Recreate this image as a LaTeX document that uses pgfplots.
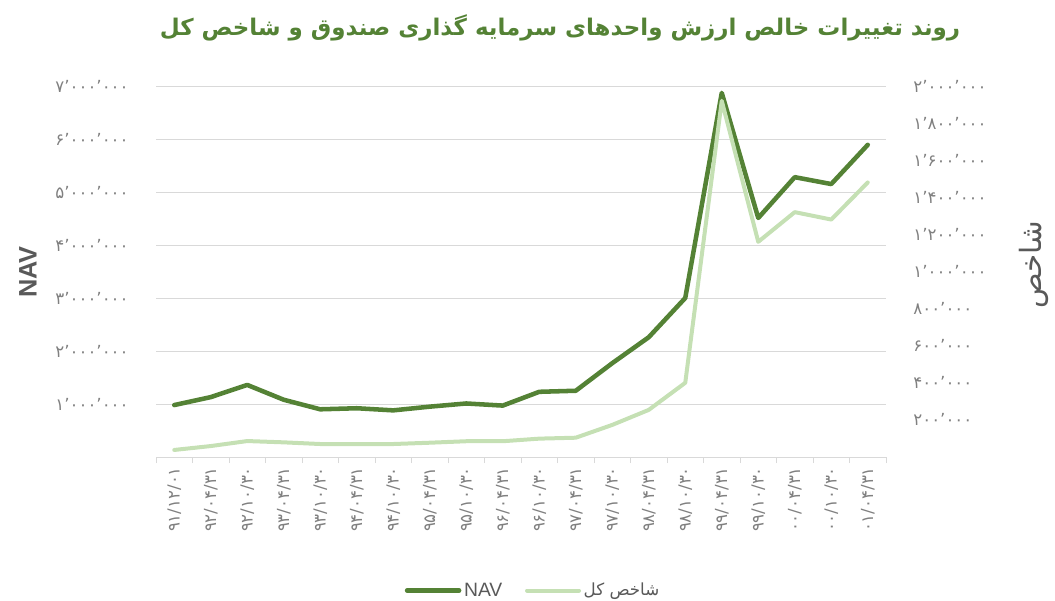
\documentclass[border=0pt]{standalone}
\usepackage{fontspec}
\setmainfont{Liberation Sans}
\newfontfamily\arabicfont[Script=Arabic]{DejaVu Sans}
\TeXXeTstate=1
\usepackage{pgfplots}
\usepackage{pgfplotstable}
\pgfplotsset{compat=1.18}

\definecolor{navgreen}{RGB}{84,130,53}
\definecolor{idxgreen}{RGB}{197,224,180}
\definecolor{gridgray}{RGB}{217,217,217}
\definecolor{tickgray}{RGB}{128,128,128}
\definecolor{labelgray}{RGB}{89,89,89}

% NAV (left axis) and shakhes kol (right axis)
\pgfplotstableread{
idx nav shakhes
0  980000  38000
1  1130000 59000
2  1360000 86000
3  1080000 79000
4  900000  70000
5  920000  70000
6  880000  70000
7  950000  77000
8  1010000 85000
9  970000  85000
10 1230000 99000
11 1250000 104000
12 1770000 173000
13 2260000 254000
14 3000000 400000
15 6870000 1920000
16 4510000 1160000
17 5280000 1320000
18 5150000 1280000
19 5890000 1480000
}\data

\begin{document}
\begin{tikzpicture}[x=1pt,y=1pt]
\useasboundingbox (0,0) rectangle (791.25,450);

\node[font=\arabicfont\bfseries\fontsize{17.2}{20}\selectfont, text=navgreen] at (420,429)
  {\beginR روند تغییرات خالص ارزش واحدهای سرمایه گذاری صندوق و شاخص کل\endR};
\node[font=\bfseries\fontsize{19}{22}\selectfont, text=labelgray, rotate=90] at (21,246) {NAV};
\node[font=\arabicfont\fontsize{22}{26}\selectfont, text=labelgray, rotate=90] at (775.5,251.25) {\beginR شاخص\endR};

\begin{axis}[
  at={(117pt,107.25pt)}, anchor=south west,
  scale only axis, width=547.5pt, height=278.25pt,
  xmin=-0.5, xmax=19.5, ymin=0, ymax=7e6,
  axis x line*=bottom, axis y line*=left,
  x axis line style={-, draw=gridgray, line width=0.75pt},
  y axis line style={draw=none},
  xtick={0,...,19},
  xticklabels={۹۱/۱۲/۰۱, ۹۲/۰۴/۳۱, ۹۲/۱۰/۳۰, ۹۳/۰۴/۳۱, ۹۳/۱۰/۳۰, ۹۴/۰۴/۳۱, ۹۴/۱۰/۳۰, ۹۵/۰۴/۳۱, ۹۵/۱۰/۳۰, ۹۶/۰۴/۳۱, ۹۶/۱۰/۳۰, ۹۷/۰۴/۳۱, ۹۷/۱۰/۳۰, ۹۸/۰۴/۳۱, ۹۸/۱۰/۳۰, ۹۹/۰۴/۳۱, ۹۹/۱۰/۳۰, ۰۰/۰۴/۳۱, ۰۰/۱۰/۳۰, ۰۱/۰۴/۳۱},
  minor xtick={-0.5,0.5,...,19.5},
  major tick length=0pt, minor tick length=4.5pt, tick align=outside,
  minor tick style={draw=gridgray, line width=0.75pt},
  ytick={1e6,2e6,3e6,4e6,5e6,6e6,7e6},
  yticklabels={۱٬۰۰۰٬۰۰۰, ۲٬۰۰۰٬۰۰۰, ۳٬۰۰۰٬۰۰۰, ۴٬۰۰۰٬۰۰۰, ۵٬۰۰۰٬۰۰۰, ۶٬۰۰۰٬۰۰۰, ۷٬۰۰۰٬۰۰۰},
  scaled y ticks=false,
  ymajorgrids, major grid style={draw=gridgray, line width=0.75pt},
  tick label style={font=\arabicfont\fontsize{12.5}{14}\selectfont, text=tickgray},
  xticklabel style={rotate=90, anchor=east, xshift=-4pt},
  yticklabel style={anchor=east, xshift=-17pt},
  clip=false,
]
\addplot[draw=navgreen, line width=3.4pt, line join=round, line cap=round] table[x=idx, y=nav] {\data};
\end{axis}

\begin{axis}[
  at={(117pt,107.25pt)}, anchor=south west,
  scale only axis, width=547.5pt, height=278.25pt,
  xmin=-0.5, xmax=19.5, ymin=0, ymax=2e6,
  axis x line=none, xtick=\empty,
  axis y line*=right, y axis line style={draw=none},
  major tick length=0pt,
  ytick={2e5,4e5,6e5,8e5,1e6,1.2e6,1.4e6,1.6e6,1.8e6,2e6},
  yticklabels={۲۰۰٬۰۰۰, ۴۰۰٬۰۰۰, ۶۰۰٬۰۰۰, ۸۰۰٬۰۰۰, ۱٬۰۰۰٬۰۰۰, ۱٬۲۰۰٬۰۰۰, ۱٬۴۰۰٬۰۰۰, ۱٬۶۰۰٬۰۰۰, ۱٬۸۰۰٬۰۰۰, ۲٬۰۰۰٬۰۰۰},
  scaled y ticks=false,
  tick label style={font=\arabicfont\fontsize{12.5}{14}\selectfont, text=tickgray},
  yticklabel style={anchor=west, xshift=17pt},
  clip=false,
  legend style={at={(0.517,-0.36)}, anchor=center, draw=none, fill=none,
    font=\fontsize{14.5}{17}\selectfont, text=labelgray,
    /tikz/every even column/.append style={column sep=15pt}},
  legend columns=2,
  legend image code/.code={\draw[#1] (0pt,0pt) -- (39pt,0pt);},
]
\addlegendimage{draw=navgreen, line width=3.4pt, line cap=round}
\addlegendentry{NAV}
\addplot[draw=idxgreen, line width=3pt, line join=round, line cap=round] table[x=idx, y=shakhes] {\data};
\addlegendentry{\arabicfont\fontsize{12.5}{15}\selectfont\beginR شاخص کل\endR}
\end{axis}
\end{tikzpicture}
\end{document}
